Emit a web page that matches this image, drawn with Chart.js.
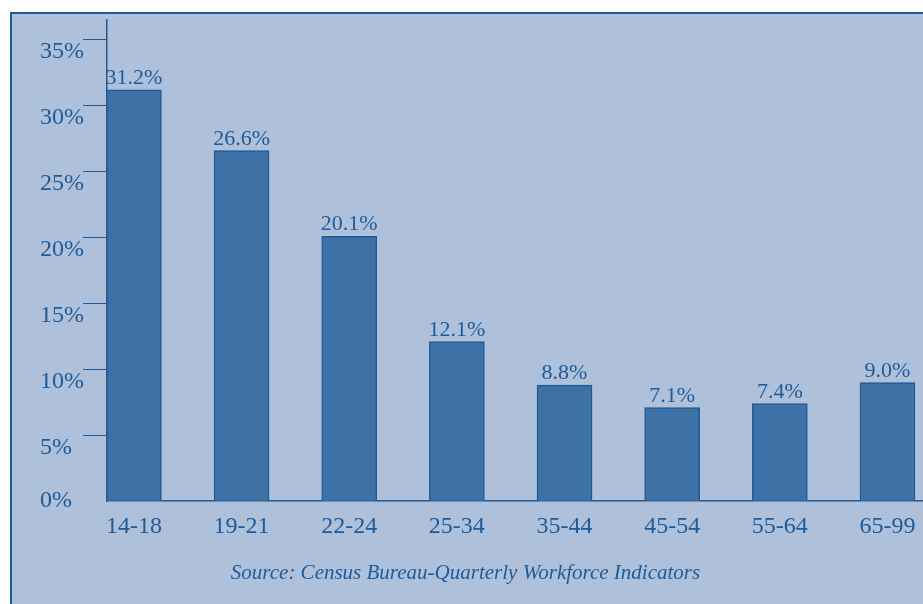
<!DOCTYPE html>
<html>
<head>
<meta charset="utf-8">
<script src="https://cdn.jsdelivr.net/npm/chart.js@4"></script>
<style>
  html, body { margin: 0; padding: 0; background: #fff; }
  #wrap { width: 923px; height: 604px; }
</style>
</head>
<body>
<div id="wrap"><canvas id="grafico"></canvas></div>
<script>
// dados
const faixas = ['14-18', '19-21', '22-24', '25-34', '35-44', '45-54', '55-64', '65-99'];
const valores = [31.2, 26.6, 20.1, 12.1, 8.8, 7.1, 7.4, 9.0];
const rotulos = ['31.2%', '26.6%', '20.1%', '12.1%', '8.8%', '7.1%', '7.4%', '9.0%'];
const ticksY = [0, 5, 10, 15, 20, 25, 30, 35];
const fonte = 'Source: Census Bureau-Quarterly Workforce Indicators';

const azul = '#1d5b9a';
const serif = '"Liberation Serif", "Times New Roman", serif';

// fundo com moldura
const moldura = {
    id: 'moldura',
    beforeDraw(chart) {
        const c = chart.ctx;
        c.save();
        c.fillStyle = '#ffffff';
        c.fillRect(0, 0, chart.width, chart.height);
        c.fillStyle = '#aec0da';
        c.fillRect(10, 12, chart.width, chart.height);
        c.strokeStyle = azul;
        c.lineWidth = 2;
        c.strokeRect(11, 13, chart.width + 10, chart.height + 10);
        c.restore();
    }
};

// rótulos do eixo y, rótulos acima das barras e fonte
const textos = {
    id: 'textos',
    afterDatasetsDraw(chart) {
        const c = chart.ctx;
        const y = chart.scales.y;
        c.save();
        c.fillStyle = azul;

        c.font = '24px ' + serif;
        c.textAlign = 'left';
        c.textBaseline = 'middle';
        ticksY.forEach(v => {
            c.fillText(v + '%', 40, y.getPixelForValue(v) + (v === 0 ? 0 : 12));
        });

        c.textAlign = 'center';
        c.textBaseline = 'alphabetic';
        c.font = '22px ' + serif;
        chart.getDatasetMeta(0).data.forEach((bar, i) => {
            c.fillText(rotulos[i], bar.x, bar.y - 6);
        });

        c.font = 'italic 21px ' + serif;
        c.fillText(fonte, chart.width / 2 + 4, 579);
        c.restore();
    }
};

const ctx = document.getElementById('grafico').getContext('2d');
new Chart(ctx, {
    type: 'bar',
    data: {
        datasets: [{
            data: valores.map((v, i) => ({ x: i, y: v })),
            backgroundColor: '#3e72a6',
            borderColor: '#1f5a97',
            borderWidth: 1.5,
            barThickness: 55
        }]
    },
    options: {
        responsive: true,
        maintainAspectRatio: false,
        animation: false,
        layout: { padding: { left: 40, right: 0, top: 20, bottom: 57 } },
        plugins: {
            legend: { display: false },
            tooltip: { enabled: false }
        },
        scales: {
            x: {
                type: 'linear',
                offset: false,
                min: -0.25,
                max: 7.33,
                afterBuildTicks: s => {
                    s.ticks = [{ value: s.min }].concat(faixas.map((f, i) => ({ value: i })));
                },
                ticks: {
                    autoSkip: false,
                    maxRotation: 0,
                    padding: 6,
                    color: azul,
                    font: { family: serif, size: 24 },
                    callback: v => faixas[v] !== undefined && Number.isInteger(v) ? faixas[v] : ''
                },
                grid: {
                    drawOnChartArea: false,
                    tickLength: 5,
                    lineWidth: 1.5,
                    color: c => c.index === 0 ? azul : 'rgba(0,0,0,0)'
                },
                border: { color: azul, width: 1.5 }
            },
            y: {
                min: 0,
                max: 36.5,
                afterBuildTicks: s => {
                    s.ticks = ticksY.map(v => ({ value: v }));
                },
                afterFit: s => { s.width = 67; },
                ticks: { display: false },
                grid: {
                    drawOnChartArea: false,
                    tickLength: 24,
                    lineWidth: 1,
                    color: c => c.tick && c.tick.value === 0 ? 'rgba(0,0,0,0)' : azul
                },
                border: { color: azul, width: 1.5 }
            }
        }
    },
    plugins: [moldura, textos]
});
</script>
</body>
</html>
